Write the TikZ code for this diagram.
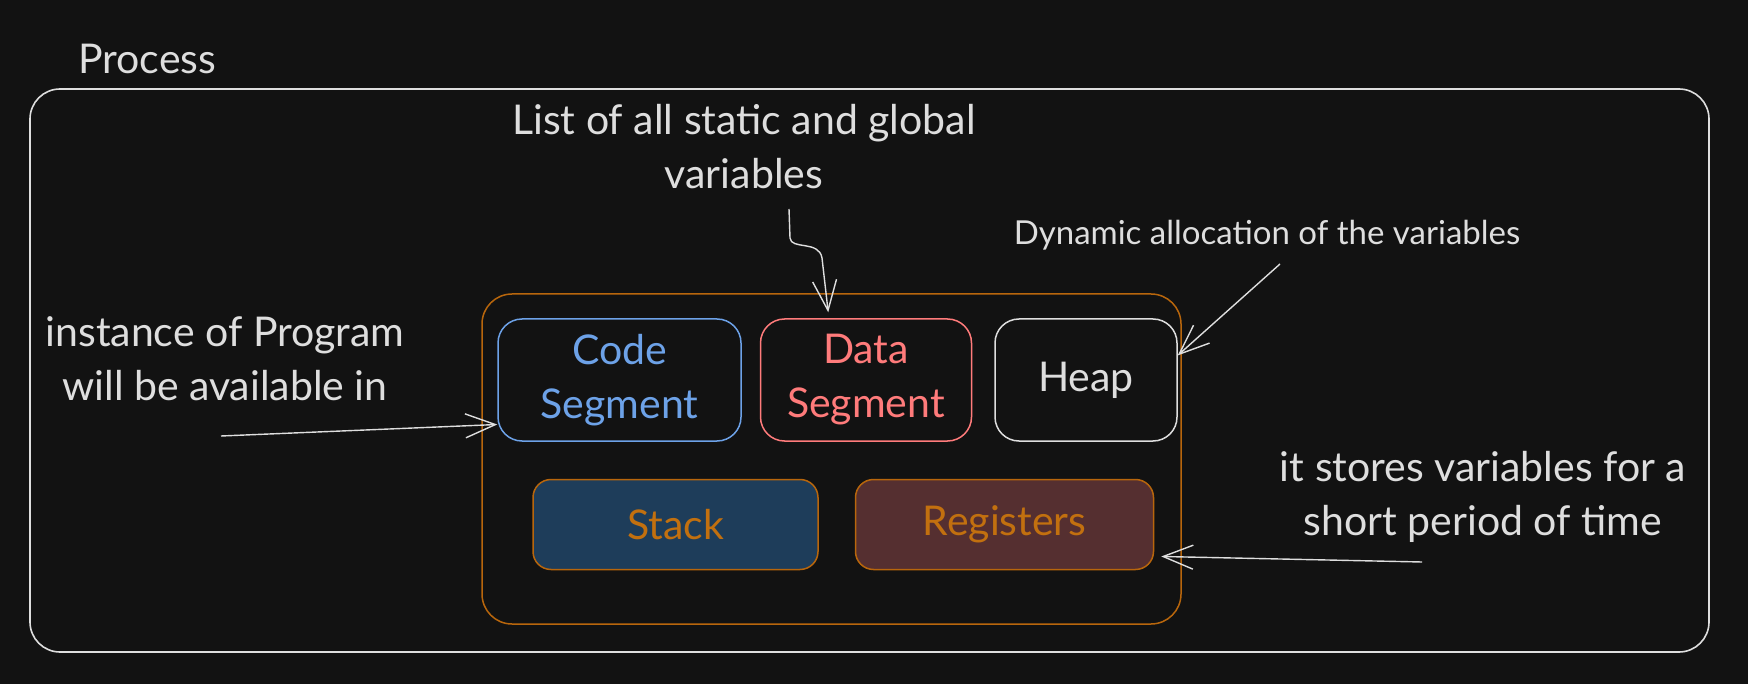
\documentclass[tikz,border=0pt]{standalone}
\usepackage{fontspec}
\setmainfont{Lato}
\usetikzlibrary{arrows.meta,positioning}
\definecolor{bgdark}{HTML}{121212}
\definecolor{inkgray}{HTML}{DEDEDE}
\definecolor{segorange}{HTML}{B8660C}
\definecolor{segtext}{HTML}{C2700F}
\definecolor{codeblue}{HTML}{6DA2E8}
\definecolor{datared}{HTML}{FF7B7B}
\definecolor{stackfill}{HTML}{1E3D5A}
\definecolor{regfill}{HTML}{552F30}

\begin{document}
\begin{tikzpicture}[x=1pt,y=-1pt,>={Straight Barb[length=30pt,width=24pt]},
 font=\fontsize{41}{54}\selectfont,
 note/.style={text=inkgray,align=center,inner sep=0pt},
 smallnote/.style={note,font=\fontsize{33}{40}\selectfont},
 seg/.style={draw,rounded corners=24pt,line width=1.5pt,align=center,inner sep=0pt,minimum height=122pt},
 tray/.style={seg,rounded corners=18pt,draw=segorange,text=segtext,minimum height=90pt},
 conn/.style={->,inkgray,line width=1.4pt}]
\fill[bgdark] (0,0) rectangle (1748,684);

\node[draw=inkgray,rounded corners=30pt,line width=1.6pt,minimum width=1679pt,minimum height=563pt] (process) at (869.5,370.5) {};
\node[note,anchor=base west] (proclbl) at (78,74) {Process};

\node[draw=segorange,rounded corners=30pt,line width=1.5pt,minimum width=699pt,minimum height=330pt] (mem) at (831.5,459) {};
\node[seg,draw=codeblue,text=codeblue,minimum width=243pt] (code) at (619.5,380) {Code\\Segment};
\node[seg,draw=datared,text=datared,minimum width=211pt,right=18pt of code] (data) {Data\\Segment};
\node[seg,draw=inkgray,text=inkgray,minimum width=182pt,right=22pt of data] (heap) {Heap};
\node[tray,fill=stackfill,minimum width=285pt,below right=37pt and 35pt of code.south west,anchor=north west] (stack) {Stack};
\node[tray,fill=regfill,minimum width=298pt,right=36pt of stack] (regs) {Registers};

\node[note] (listnote) at (744,147) {List of all static and global\\variables};
\node[smallnote,anchor=base] (dynnote) at (1267,245) {Dynamic allocation of the variables};
\node[note] (instnote) at (225,359) {instance of Program\\will be available in};
\node[note] (storenote) at (1483,497) {it stores variables for a\\short period of time};

\coordinate (listfrom) at (789,209);
\coordinate (dynfrom) at (1280,264);
\coordinate (instfrom) at (221,436);
\coordinate (storefrom) at (1422,562);
\draw[conn,shorten >=6pt] (listfrom) -- (790,238) .. controls (791,250) and (819,240) .. (822,258) -- (data.121);
\draw[conn] (dynfrom) -- (heap.15);
\draw[conn] (instfrom) -- (code.200);
\draw[conn,shorten >=7pt] (storefrom) -- (regs.-12);
\end{tikzpicture}
\end{document}
